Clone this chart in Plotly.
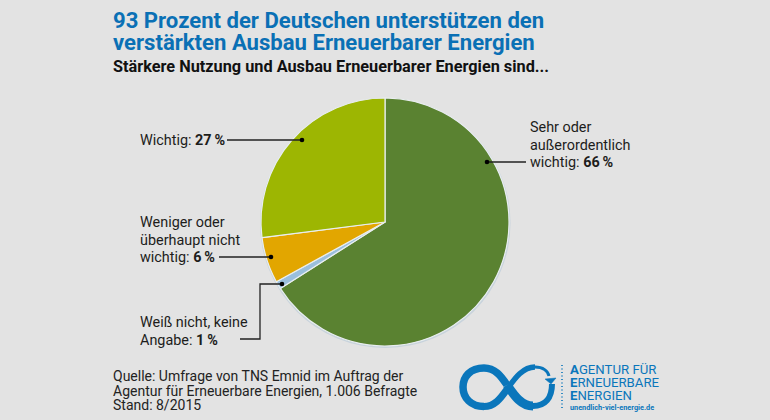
import plotly.graph_objects as go

W, H = 770, 420
BG = "#e3e3e3"
categories = ["Sehr oder außerordentlich wichtig", "Weiß nicht, keine Angabe",
              "Weniger oder überhaupt nicht wichtig", "Wichtig"]
values = [66, 1, 6, 27]
colors = ["#5a8231", "#9abfdc", "#e2a600", "#9db602"]

cx, cy, r = 385, 222, 124
px = lambda x: x / W
py = lambda y: 1 - y / H

fig = go.Figure(go.Pie(
    labels=categories, values=values, sort=False, direction="clockwise", rotation=0,
    marker=dict(colors=colors, line=dict(color="#e9eef0", width=1.2)),
    textinfo="none", hoverinfo="label+percent", showlegend=False,
    domain=dict(x=[px(cx - r), px(cx + r)], y=[py(cy + r), py(cy - r)]),
))

FONT = "Roboto"
annots = []
def text(x, y, s, size, color="#1d1d1b", font=FONT):
    annots.append(dict(xref="paper", yref="paper", x=px(x - 2), y=py(y), text=s, showarrow=False,
                       xanchor="left", yanchor="middle", align="left",
                       font=dict(family=font, size=size, color=color)))

TITLE = "#0a70b5"
text(113, 20, "<b>93 Prozent der Deutschen unterstützen den</b>", 22.1, TITLE)
text(113, 42.5, "<b>verstärkten Ausbau Erneuerbarer Energien</b>", 22.1, TITLE)
text(113, 66, "<b>Stärkere Nutzung und Ausbau Erneuerbarer Energien sind...</b>", 16.3, "#111111")

for x, y, s in [
    (140, 141, "Wichtig: <b>27\u2009%</b>"),
    (530, 127, "Sehr oder"), (530, 145, "außerordentlich"), (530, 163, "wichtig: <b>66\u2009%</b>"),
    (140, 222, "Weniger oder"), (140, 240, "überhaupt nicht"), (140, 257, "wichtig: <b>6\u2009%</b>"),
    (140, 322, "Weiß nicht, keine"), (140, 340, "Angabe: <b>1\u2009%</b>"),
]:
    text(x, y, s, 14.4)

for y, s in [(376, "Quelle: Umfrage von TNS Emnid im Auftrag der"),
             (391, "Agentur für Erneuerbare Energien, 1.006 Befragte"),
             (405, "Stand: 8/2015")]:
    text(113, y, s, 14, "#222222")

LOGO = "#0a76bb"
text(570, 369, "<b>A</b>GENTUR FÜR", 13.2, LOGO)
text(570, 382, "<b>E</b>RNEUERBARE", 13.2, LOGO)
text(570, 395, "<b>E</b>NERGIEN", 13.2, LOGO)
text(570, 407.5, "<b>unendlich-viel-energie.de</b>", 7.3, LOGO)

shapes = []
def path(points, color="#222222", width=1.3, dash=None, fill=None):
    shapes.append(dict(type="path", xref="paper", yref="paper", path=points,
                       line=dict(color=color, width=width, dash=dash),
                       fillcolor=fill, layer="above"))
def P(x, y):
    return f"{px(x):.5f},{py(y):.5f}"
def poly(*pts):
    return "M " + " L ".join(P(*p) for p in pts)
def bez(p0, c1, c2, p1):
    return f"M {P(*p0)} C {P(*c1)} {P(*c2)} {P(*p1)}"
def dot(x, y, rad=2.3):
    shapes.append(dict(type="circle", xref="paper", yref="paper",
                       x0=px(x - rad), x1=px(x + rad), y0=py(y + rad), y1=py(y - rad),
                       fillcolor="#000000", line=dict(width=0), layer="above"))

# soft halo under the pie
shapes.append(dict(type="circle", xref="paper", yref="paper", layer="below",
                   x0=px(cx - r - 1), x1=px(cx + r + 1.5), y0=py(cy + r + 2), y1=py(cy - r),
                   fillcolor="#c8d3dc", line=dict(width=0)))

path(poly((227, 140), (302, 140)))
path(poly((487, 162), (526, 162)))
path(poly((219, 257), (271, 257)))
path(poly((240, 339), (260, 339), (260, 284), (282, 284)))
for d in [(302, 140), (487, 162), (271, 257), (282, 284)]:
    dot(*d)

# logo: infinity ribbon
path(bez((484, 368), (495, 368), (501, 376), (507, 385)), LOGO, 7.5)
path(bez((507, 385), (514, 395), (521, 406), (533, 406)), LOGO, 9)
path(bez((533, 406), (545, 406), (552, 398), (552, 384)), LOGO, 6)
path(bez((484, 368), (470, 368), (463, 377), (463, 387)), LOGO, 7.5)
path(bez((463, 387), (463, 398), (471, 406.5), (484, 406.5)), LOGO, 7.5)
path(bez((484, 406.5), (496, 406.5), (502, 396), (508, 388)), LOGO, 7)
path(bez((508, 388), (515, 378), (523, 367), (535, 367)), LOGO, 5.5)
path(bez((535, 367), (543, 367), (548, 371), (549, 376)), LOGO, 3)
path(poly((545, 379), (556, 378), (551, 384)) + " Z", LOGO, 0.5, fill=LOGO)
# logo: dotted separator
path(poly((562, 365), (562, 410)), LOGO, 1.6, dash="1px,2.5px")

fig.update_layout(
    width=W, height=H, margin=dict(l=0, r=0, t=0, b=0), autosize=False,
    paper_bgcolor=BG, plot_bgcolor=BG, annotations=annots, shapes=shapes,
    showlegend=False,
)
fig.write_html("out.html", config=dict(displayModeBar=False),
               post_script="document.body.style.margin='0';document.body.style.background='%s';" % BG)
